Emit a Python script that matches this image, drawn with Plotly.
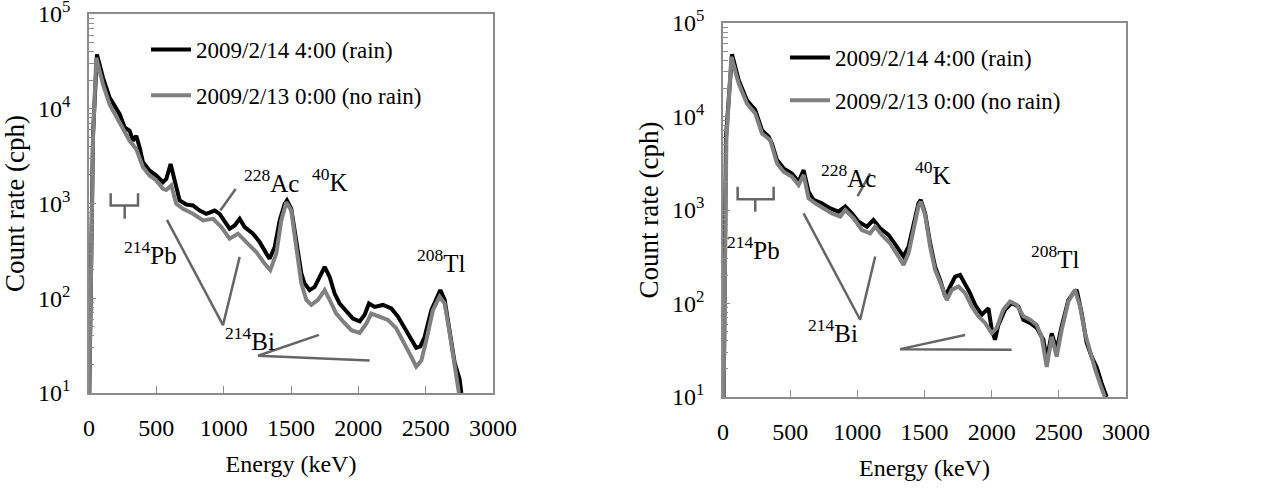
import plotly.graph_objects as go

# ---- left panel: spectra ----
left_rain_e = [2, 30, 59, 104, 153, 228, 265, 302, 327, 351, 376, 401, 450, 500, 549, 574, 606, 636,
               673, 723, 772, 822, 871, 933, 970, 1044, 1082, 1119, 1156, 1218, 1267, 1317, 1341, 1379,
               1416, 1453, 1470, 1502, 1539, 1577, 1601, 1638, 1676, 1713, 1750, 1787, 1824, 1861, 1911,
               1960, 2010, 2047, 2079, 2121, 2183, 2245, 2294, 2344, 2393, 2430, 2460, 2492, 2542, 2591,
               2609, 2641, 2678, 2715, 2752, 2765]
left_rain_c = [10, 5400, 37400, 21200, 13100, 8750, 6340, 5850, 4590, 5190, 3910, 2720, 2220, 1970, 1675, 1815,
               2610, 1746, 1076, 977, 953, 843, 778, 843, 778, 542, 587, 690, 564, 480, 393, 296, 262, 348,
               662, 991, 1076, 879, 408, 182, 143, 122, 132, 168, 214, 168, 112, 88, 72,
               61, 57, 67, 88, 81, 85, 78, 64, 48, 36, 30, 31, 39, 75, 112,
               122, 96, 46, 21, 14, 10]

left_dry_e = [2, 30, 54, 104, 153, 228, 302, 351, 401, 450, 500, 549, 574, 611, 648, 698, 772, 846, 921, 983,
              1044, 1106, 1168, 1242, 1304, 1346, 1391, 1428, 1465, 1502, 1539, 1577, 1614, 1651, 1700, 1750,
              1787, 1836, 1886, 1948, 2010, 2059, 2096, 2158, 2220, 2282, 2331, 2381, 2430, 2468, 2505, 2554,
              2604, 2641, 2678, 2715, 2747]
left_dry_c = [10, 5000, 34500, 18100, 11100, 7160, 4590, 3750, 2410, 1970, 1750, 1430, 1390, 1550, 991, 879,
              778, 662, 690, 564, 426, 480, 393, 308, 232, 198, 296, 662, 1030, 843, 348, 143, 96, 85, 96, 122,
              96, 69, 57, 46, 43, 54, 69, 64, 59, 48, 36, 26, 19, 22, 36, 75, 104, 88, 43, 19, 10]

# ---- right panel: spectra ----
right_rain_e = [5, 22, 67, 117, 178, 240, 290, 340, 364, 402, 451, 513, 563, 600, 637, 674, 736, 798, 860,
                910, 959, 1009, 1071, 1120, 1170, 1232, 1294, 1344, 1381, 1418, 1455, 1472, 1505, 1542, 1579,
                1616, 1654, 1691, 1728, 1765, 1802, 1839, 1877, 1926, 1976, 2001, 2025, 2050, 2100, 2149, 2199,
                2236, 2286, 2335, 2385, 2410, 2447, 2484, 2521, 2571, 2608, 2633, 2670, 2707, 2744, 2781, 2819,
                2856]
right_rain_c = [10, 6000, 46200, 24400, 14900, 11700, 7140, 6070, 5150, 3420, 2790, 2460, 2000, 2670, 1570,
                1280, 1180, 1040, 960, 1090, 920, 750, 664, 782, 637, 541, 406, 318, 406, 664, 1180, 1280, 920,
                441, 248, 179, 119, 152, 194, 202, 165, 129, 97, 76, 89, 52, 41, 59, 86, 101, 93, 67, 62, 55,
                41, 25, 48, 32, 57, 109, 129, 140, 79, 38, 27, 21, 14, 10]

right_dry_e = [5, 25, 62, 117, 178, 240, 290, 352, 402, 451, 513, 563, 600, 637, 687, 749, 811, 873, 910,
               972, 1034, 1096, 1133, 1182, 1244, 1306, 1344, 1381, 1418, 1455, 1472, 1505, 1542, 1579, 1629,
               1666, 1703, 1753, 1802, 1852, 1901, 1951, 2001, 2038, 2087, 2137, 2186, 2236, 2286, 2335, 2372,
               2410, 2447, 2484, 2521, 2571, 2620, 2658, 2695, 2732, 2769, 2806, 2843]
right_dry_c = [10, 5600, 43400, 22500, 13800, 10800, 6580, 5580, 3150, 2560, 2270, 1850, 2370, 1330, 1180,
               1040, 920, 850, 1000, 815, 611, 564, 664, 541, 441, 318, 259, 344, 611, 1090, 1230, 885, 406,
               229, 152, 109, 140, 152, 129, 93, 73, 62, 48, 55, 86, 105, 97, 73, 67, 59, 44, 21, 44, 27, 52,
               105, 140, 93, 48, 30, 20, 14, 10]

series_names = ["2009/2/14 4:00 (rain)", "2009/2/13 0:00 (no rain)"]

# ---- leader lines for the nuclide labels (energy keV, count rate) ----
left_leaders = [
    ([1089, 975], [1425, 843]),                       # 228Ac
    ([161, 161, 364, 364], [1285, 953, 953, 1285]),   # 214Pb bracket
    ([265, 265], [953, 690]),
    ([579, 995, 1119], [673, 52, 273]),               # 214Bi
    ([1708, 1255, 2084], [41, 24.7, 22]),
]
right_leaders = [
    ([1096, 1002], [2460, 1410]),
    ([109, 109, 377, 377], [1775, 1300, 1300, 1775]),
    ([240, 240], [1300, 960]),
    ([600, 1021, 1133], [920, 67, 318]),
    ([1802, 1319, 2149], [46, 32.5, 32]),
]

FONT = "Liberation Serif"
BLACK = "#000000"
GRAY = "#808080"
AXIS = "#8c8c8c"
LEAD = "#666666"

W, H = 1281, 489


def px_x(px):
    return px / W


def px_y(py):
    return 1 - py / H


fig = go.Figure()

panels = [
    ("x", "y", "legend", left_rain_e, left_rain_c, left_dry_e, left_dry_c, left_leaders),
    ("x2", "y2", "legend2", right_rain_e, right_rain_c, right_dry_e, right_dry_c, right_leaders),
]
for xa, ya, lg, re_, rc, de, dc, leaders in panels:
    for xs, ys in leaders:
        fig.add_trace(go.Scatter(x=xs, y=ys, mode="lines", xaxis=xa, yaxis=ya,
                                 line=dict(color=LEAD, width=2.5), showlegend=False, hoverinfo="skip"))
    fig.add_trace(go.Scatter(x=re_, y=rc, mode="lines", name=series_names[0], xaxis=xa, yaxis=ya,
                             legend=lg, legendgroup="a", line=dict(color=BLACK, width=4)))
    fig.add_trace(go.Scatter(x=de, y=dc, mode="lines", name=series_names[1], xaxis=xa, yaxis=ya,
                             legend=lg, legendgroup="b", line=dict(color=GRAY, width=4)))

minor_vals = [m * 10 ** d for d in range(1, 5) for m in range(2, 10)]
ytick_vals = [10, 100, 1000, 10000, 100000]
ytick_text = ["10<sup>1</sup>", "10<sup>2</sup>", "10<sup>3</sup>", "10<sup>4</sup>", "10<sup>5</sup>"]

xaxis_style = dict(range=[0, 3000], tickvals=[0, 500, 1000, 1500, 2000, 2500, 3000],
                   ticks="inside", ticklen=7, tickcolor=AXIS, showline=True, linecolor=AXIS,
                   linewidth=1.5, mirror=True, showgrid=False, zeroline=False, automargin=False,
                   ticklabeloverflow="allow",
                   ticklabelstandoff=12, tickfont=dict(family=FONT, size=24, color="black"),
                   title=dict(text="Energy (keV)", font=dict(family=FONT, size=24, color="black"), standoff=16))
yaxis_style = dict(type="log", range=[1, 5], tickvals=ytick_vals, ticktext=ytick_text,
                   ticks="inside", ticklen=7, tickcolor=AXIS, showline=True, linecolor=AXIS,
                   linewidth=1.5, mirror=True, showgrid=False, zeroline=False, automargin=False,
                   ticklabeloverflow="allow",
                   ticklabelstandoff=12, tickfont=dict(family=FONT, size=24, color="black"),
                   minor=dict(tickvals=minor_vals, ticks="inside", ticklen=5, tickcolor=AXIS, showgrid=False),
                   title=dict(text="Count rate (cph)", font=dict(family=FONT, size=27, color="black"), standoff=6))

fig.update_layout(
    width=W, height=H, margin=dict(l=0, r=0, t=0, b=0),
    paper_bgcolor="white", plot_bgcolor="white",
    font=dict(family=FONT, color="black"),
    xaxis=dict(domain=[px_x(89), px_x(493)], anchor="y", **xaxis_style),
    yaxis=dict(domain=[px_y(393), px_y(14)], anchor="x", **yaxis_style),
    xaxis2=dict(domain=[px_x(723), px_x(1126)], anchor="y2", **xaxis_style),
    yaxis2=dict(domain=[px_y(397), px_y(23)], anchor="x2", **yaxis_style),
    legend=dict(x=px_x(146), y=px_y(28), xanchor="left", yanchor="top", bgcolor="rgba(0,0,0,0)",
                font=dict(family=FONT, size=23), tracegroupgap=13, itemwidth=40),
    legend2=dict(x=px_x(785), y=px_y(36), xanchor="left", yanchor="top", bgcolor="rgba(0,0,0,0)",
                 font=dict(family=FONT, size=23), tracegroupgap=10, itemwidth=40),
    showlegend=True,
)

labels = [
    ("<sup>228</sup>Ac", 242, 163), ("<sup>40</sup>K", 310, 180), ("<sup>214</sup>Pb", 122, 253),
    ("<sup>214</sup>Bi", 223, 357), ("<sup>208</sup>Tl", 441, 261),
    ("<sup>228</sup>Ac", 878, 158), ("<sup>40</sup>K", 953, 173), ("<sup>214</sup>Pb", 753, 248),
    ("<sup>214</sup>Bi", 860, 349), ("<sup>208</sup>Tl", 1082, 257),
]
for txt, px, py in labels:
    fig.add_annotation(text=txt, x=px_x(px), y=px_y(py), xref="paper", yref="paper",
                       showarrow=False, font=dict(family=FONT, size=25, color="black"))

# the page body has a default 8px margin; drop it so the figure fills the window
fig.write_html("out.html", config={"displayModeBar": False},
               post_script="document.body.style.margin = '0px';")
